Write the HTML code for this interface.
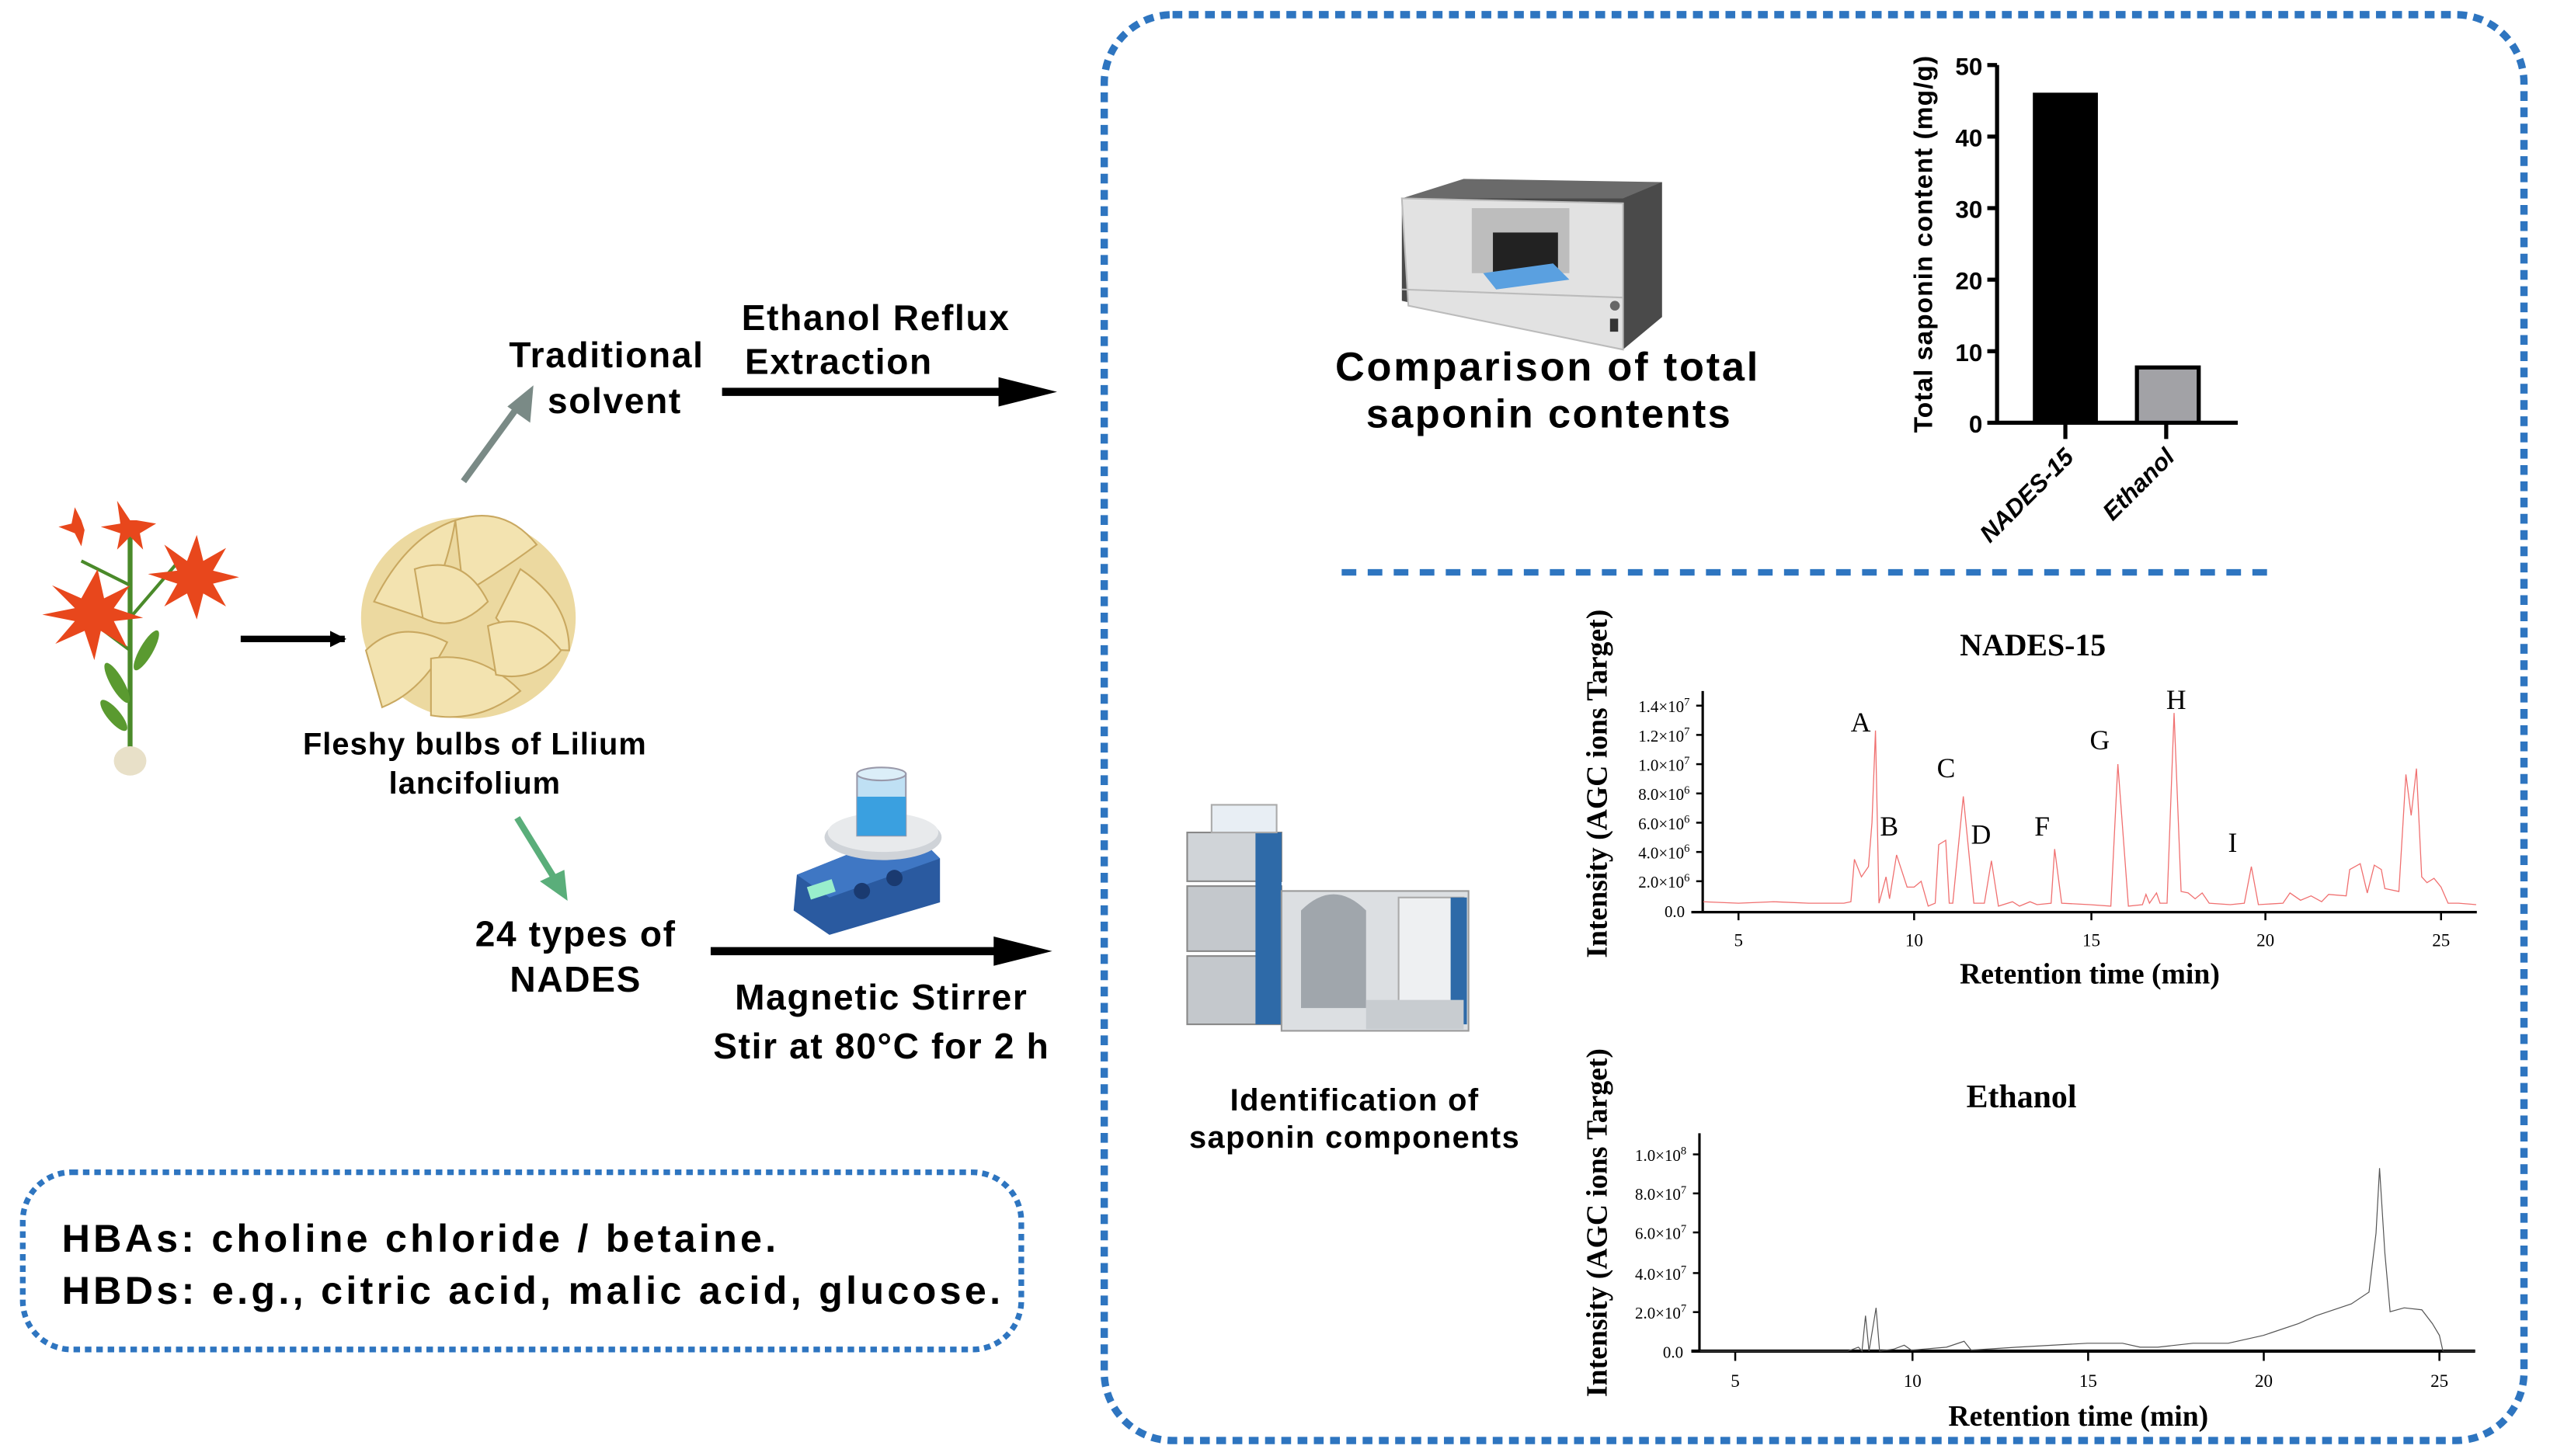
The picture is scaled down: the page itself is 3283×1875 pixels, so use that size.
<!DOCTYPE html>
<html><head><meta charset="utf-8"><style>html,body{margin:0;padding:0;background:#fff}svg{display:block}</style></head>
<body>
<svg width="3283" height="1875" viewBox="0 0 1568 895.5" xmlns="http://www.w3.org/2000/svg" font-family="Liberation Sans, Arial, sans-serif">
<rect width="1568" height="896" fill="#fff"/>
<defs>
<marker id="ah" markerWidth="10" markerHeight="10" refX="9" refY="5" orient="auto" markerUnits="userSpaceOnUse"><path d="M0,0 L10,5 L0,10 z" fill="#000"/></marker>
</defs>
<rect x="679" y="9" width="873" height="877" rx="42" fill="none" stroke="#2e75c0" stroke-width="4.5" stroke-dasharray="6 4"/>
<line x1="825" y1="352" x2="1395" y2="352" stroke="#2e75c0" stroke-width="4" stroke-dasharray="9 7"/>
<rect x="14" y="721" width="614" height="109" rx="30" fill="none" stroke="#2e75c0" stroke-width="3.5" stroke-dasharray="4 3"/>
<text x="38" y="770" font-size="24" font-weight="bold" letter-spacing="0.8" textLength="440">HBAs: choline chloride / betaine.</text>
<text x="38" y="802" font-size="24" font-weight="bold" letter-spacing="0.8" textLength="578">HBDs: e.g., citric acid, malic acid, glucose.</text>

<g>
<line x1="80" y1="470" x2="80" y2="330" stroke="#4a8a2a" stroke-width="3"/>
<line x1="80" y1="380" x2="110" y2="345" stroke="#4a8a2a" stroke-width="2"/>
<line x1="80" y1="360" x2="50" y2="345" stroke="#4a8a2a" stroke-width="2"/>
<line x1="80" y1="400" x2="60" y2="385" stroke="#4a8a2a" stroke-width="2"/>
<ellipse cx="72" cy="420" rx="4" ry="14" fill="#5a9a30" transform="rotate(-30 72 420)"/>
<ellipse cx="90" cy="400" rx="4" ry="14" fill="#5a9a30" transform="rotate(30 90 400)"/>
<ellipse cx="70" cy="440" rx="4" ry="12" fill="#5a9a30" transform="rotate(-40 70 440)"/>
<ellipse cx="80" cy="468" rx="10" ry="9" fill="#e8e0c8"/>
<g fill="#e8471c">
<path d="M50,368 l-18,-8 l14,14 l-20,4 l20,4 l-12,14 l18,-8 l6,18 l4,-18 l16,10 l-8,-16 l18,-2 l-18,-6 l10,-14 l-16,8 l-4,-18 z"/>
<path d="M115,345 l-14,-10 l8,16 l-18,2 l18,6 l-8,14 l14,-8 l6,16 l4,-16 l14,8 l-8,-14 l16,-4 l-16,-4 l8,-14 l-14,8 l-4,-16 z"/>
<path d="M80,320 l-8,-12 l2,14 l-12,2 l12,4 l-2,10 l8,-8 l8,8 l-2,-10 l10,-6 l-12,-2 z"/>
<path d="M50,320 l-4,-8 l-2,10 l-8,2 l10,4 l4,8 l2,-10 z"/>
</g>
</g>
<g>
<ellipse cx="288" cy="380" rx="66" ry="62" fill="#ecd9a0"/>
<g fill="#f3e3b0" stroke="#c9a860" stroke-width="1">
<path d="M230,370 q20,-40 50,-50 q-5,30 -20,60 z"/>
<path d="M280,320 q30,-10 50,15 q-20,15 -45,30 z"/>
<path d="M320,350 q30,20 30,50 q-30,0 -45,-20 z"/>
<path d="M225,400 q20,-20 50,-5 q-15,30 -40,40 z"/>
<path d="M265,405 q30,-5 55,20 q-25,20 -55,15 z"/>
<path d="M255,350 q30,-10 45,20 q-20,20 -40,10 z"/>
<path d="M300,385 q25,-10 45,15 q-15,20 -40,15 z"/>
</g>
</g>
<line x1="148" y1="393" x2="212" y2="393" stroke="#000" stroke-width="4" marker-end="url(#ah)"/>
<text x="292" y="464" font-size="19" font-weight="bold" text-anchor="middle" letter-spacing="0.5">Fleshy bulbs of Lilium</text>
<text x="292" y="488" font-size="19" font-weight="bold" text-anchor="middle" letter-spacing="0.5">lancifolium</text>

<line x1="285" y1="296" x2="320" y2="248" stroke="#7a8a86" stroke-width="4"/>
<path d="M328,237 L326,260 L312,250 z" fill="#7a8a86"/>
<line x1="318" y1="503" x2="342" y2="542" stroke="#5aae7a" stroke-width="4"/>
<path d="M349,554 L332,542 L347,535 z" fill="#5aae7a"/>

<text x="313" y="226" font-size="22" font-weight="bold" letter-spacing="0.8">Traditional</text>
<text x="378" y="254" font-size="22" font-weight="bold" text-anchor="middle" letter-spacing="0.8">solvent</text>
<text x="456" y="203" font-size="22" font-weight="bold" letter-spacing="0.8">Ethanol Reflux</text>
<text x="458" y="230" font-size="22" font-weight="bold" letter-spacing="0.8">Extraction</text>
<line x1="444" y1="241" x2="630" y2="241" stroke="#000" stroke-width="5"/>
<path d="M650,241 L614,232 L614,250 z" fill="#000"/>

<text x="354" y="582" font-size="22" font-weight="bold" text-anchor="middle" letter-spacing="0.8">24 types of</text>
<text x="354" y="610" font-size="22" font-weight="bold" text-anchor="middle" letter-spacing="0.8">NADES</text>
<line x1="437" y1="585" x2="628" y2="585" stroke="#000" stroke-width="5"/>
<path d="M647,585 L611,576 L611,594 z" fill="#000"/>

<g>
<path d="M490,538 L560,510 L578,528 L578,555 L510,575 L488,560 z" fill="#2a5aa0"/>
<path d="M490,538 L560,510 L578,528 L510,552 z" fill="#3f77c4"/>
<ellipse cx="543" cy="515" rx="36" ry="14" fill="#cfd3d8"/>
<ellipse cx="543" cy="512" rx="34" ry="12" fill="#e8eaec"/>
<rect x="527" y="476" width="30" height="38" fill="#bfe0f4" stroke="#99a" stroke-width="1"/>
<rect x="527" y="490" width="30" height="24" fill="#3aa0e0"/>
<ellipse cx="542" cy="476" rx="15" ry="4" fill="#dbeef8" stroke="#99a"/>
<rect x="497" y="543" width="16" height="8" fill="#9ec" transform="rotate(-18 505 547)"/>
<circle cx="530" cy="548" r="5" fill="#1a3a70"/><circle cx="550" cy="540" r="5" fill="#1a3a70"/>
</g>
<text x="542" y="621" font-size="22" font-weight="bold" text-anchor="middle" letter-spacing="0.8">Magnetic Stirrer</text>
<text x="542" y="651" font-size="22" font-weight="bold" text-anchor="middle" letter-spacing="0.8">Stir at 80°C for 2 h</text>

<g>
<path d="M862,122 L1022,112 L1022,195 L998,215 L862,185 z" fill="#4a4a4a"/>
<path d="M862,122 L900,110 L1022,112 L998,122 z" fill="#6a6a6a"/>
<path d="M862,122 L998,125 L998,215 L866,188 z" fill="#e2e2e2" stroke="#bbb"/>
<rect x="905" y="128" width="60" height="40" fill="#bdbdbd"/>
<rect x="918" y="143" width="40" height="25" fill="#222"/>
<path d="M912,168 L955,162 L965,172 L920,178 z" fill="#5aa0e0"/>
<path d="M862,178 L998,183" stroke="#bbb"/>
<circle cx="993" cy="188" r="3" fill="#666"/><rect x="990" y="196" width="5" height="8" fill="#333"/>
</g>
<text x="951" y="234" font-size="25" font-weight="bold" text-anchor="middle" textLength="260">Comparison of total</text>
<text x="952" y="263" font-size="25" font-weight="bold" text-anchor="middle" textLength="224">saponin contents</text>

<g font-weight="bold">
<line x1="1228" y1="40" x2="1228" y2="261" stroke="#000" stroke-width="2.5"/>
<line x1="1227" y1="260" x2="1376" y2="260" stroke="#000" stroke-width="2.5"/>
<g stroke="#000" stroke-width="2.5">
<line x1="1222" y1="40" x2="1228" y2="40"/><line x1="1222" y1="84" x2="1228" y2="84"/><line x1="1222" y1="128" x2="1228" y2="128"/><line x1="1222" y1="172" x2="1228" y2="172"/><line x1="1222" y1="216" x2="1228" y2="216"/><line x1="1222" y1="260" x2="1228" y2="260"/>
<line x1="1270" y1="260" x2="1270" y2="270"/><line x1="1332" y1="260" x2="1332" y2="270"/>
</g>
<g font-size="15" text-anchor="end">
<text x="1219" y="46">50</text><text x="1219" y="90">40</text><text x="1219" y="134">30</text><text x="1219" y="178">20</text><text x="1219" y="222">10</text><text x="1219" y="266">0</text>
</g>
<rect x="1250" y="57" width="40" height="203" fill="#000"/>
<rect x="1314" y="226" width="38" height="34" fill="#a2a2a6" stroke="#000" stroke-width="2.5"/>
<text transform="translate(1188,150) rotate(-90)" font-size="16" text-anchor="middle" letter-spacing="0.5">Total saponin content (mg/g)</text>
<text transform="translate(1276,282) rotate(-45)" font-size="15" font-style="italic" text-anchor="end">NADES-15</text>
<text transform="translate(1338,282) rotate(-45)" font-size="15" font-style="italic" text-anchor="end">Ethanol</text>
</g>

<g>
<rect x="730" y="512" width="58" height="30" fill="#d0d4d8" stroke="#888"/>
<rect x="730" y="545" width="58" height="40" fill="#c4c8cc" stroke="#888"/>
<rect x="730" y="588" width="58" height="42" fill="#c4c8cc" stroke="#888"/>
<rect x="772" y="512" width="16" height="118" fill="#2e6aa8"/>
<rect x="745" y="495" width="40" height="17" fill="#e8eef4" stroke="#aaa"/>
<rect x="788" y="548" width="115" height="86" fill="#dcdfe2" stroke="#999"/>
<rect x="860" y="552" width="40" height="70" fill="#eef0f2" stroke="#aaa"/>
<rect x="892" y="552" width="10" height="78" fill="#2e6aa8"/>
<path d="M800,560 q20,-20 40,0 l0,60 l-40,0 z" fill="#a0a6ac"/>
<rect x="840" y="615" width="60" height="18" fill="#c8ccd0"/>
</g>
<text x="833" y="683" font-size="19" font-weight="bold" text-anchor="middle" letter-spacing="0.7">Identification of</text>
<text x="833" y="706" font-size="19" font-weight="bold" text-anchor="middle" letter-spacing="0.7">saponin components</text>

<g font-family="Liberation Serif, Times New Roman, serif">
<text x="1250" y="403" font-size="19" font-weight="bold" text-anchor="middle">NADES-15</text>
<text transform="translate(988,482) rotate(-90)" font-size="18" font-weight="bold" text-anchor="middle">Intensity (AGC ions Target)</text>
<line x1="1047" y1="425" x2="1047" y2="561" stroke="#000" stroke-width="1.5"/>
<line x1="1040" y1="561" x2="1523" y2="561" stroke="#000" stroke-width="1.5"/>
<g stroke="#000" stroke-width="1.2">
<line x1="1043" y1="434" x2="1047" y2="434"/><line x1="1043" y1="452" x2="1047" y2="452"/><line x1="1043" y1="470" x2="1047" y2="470"/><line x1="1043" y1="488" x2="1047" y2="488"/><line x1="1043" y1="506" x2="1047" y2="506"/><line x1="1043" y1="524" x2="1047" y2="524"/><line x1="1043" y1="542" x2="1047" y2="542"/>
<line x1="1069" y1="561" x2="1069" y2="566"/><line x1="1177" y1="561" x2="1177" y2="566"/><line x1="1286" y1="561" x2="1286" y2="566"/><line x1="1393" y1="561" x2="1393" y2="566"/><line x1="1501" y1="561" x2="1501" y2="566"/>
</g>
<g font-size="10" text-anchor="end">
<text x="1039" y="438">1.4×10<tspan dy="-4" font-size="7">7</tspan></text>
<text x="1039" y="456">1.2×10<tspan dy="-4" font-size="7">7</tspan></text>
<text x="1039" y="474">1.0×10<tspan dy="-4" font-size="7">7</tspan></text>
<text x="1039" y="492">8.0×10<tspan dy="-4" font-size="7">6</tspan></text>
<text x="1039" y="510">6.0×10<tspan dy="-4" font-size="7">6</tspan></text>
<text x="1039" y="528">4.0×10<tspan dy="-4" font-size="7">6</tspan></text>
<text x="1039" y="546">2.0×10<tspan dy="-4" font-size="7">6</tspan></text>
<text x="1036" y="564">0.0</text>
</g>
<g font-size="11" text-anchor="middle">
<text x="1069" y="582">5</text><text x="1177" y="582">10</text><text x="1286" y="582">15</text><text x="1393" y="582">20</text><text x="1501" y="582">25</text>
</g>
<text x="1285" y="605" font-size="18" font-weight="bold" text-anchor="middle">Retention time (min)</text>
<g font-size="17">
<text x="1138" y="450">A</text><text x="1156" y="514">B</text><text x="1191" y="478">C</text><text x="1212" y="519">D</text><text x="1251" y="514">F</text><text x="1285" y="461">G</text><text x="1332" y="436">H</text><text x="1370" y="524">I</text>
</g>
<g transform="translate(961,560) scale(21.6,-9)">
<polyline fill="none" stroke="#f07070" stroke-width="1.3" vector-effect="non-scaling-stroke" points="4,0.6 5,0.5 6,0.6 7,0.5 8,0.5 8.2,0.6 8.3,3.5 8.5,2.3 8.7,3 8.8,6 8.9,12.3 9.0,0.5 9.2,2.3 9.3,0.8 9.5,3.8 9.8,1.6 10,1.6 10.2,2 10.4,0.3 10.6,0.5 10.7,4.5 10.9,4.8 11.0,0.5 11.1,0.5 11.4,7.8 11.7,0.5 12.0,0.5 12.2,3.4 12.4,0.3 12.8,0.6 13,0.3 13.3,0.6 13.5,0.4 13.9,0.5 14.0,4.2 14.2,0.5 15,0.4 15.6,0.3 15.8,10 16.1,0.3 16.5,0.4 16.6,1.1 16.7,0.5 16.9,1.2 17.0,0.5 17.2,0.5 17.4,13.5 17.6,1.3 17.8,1.2 18,0.8 18.2,1.2 18.4,0.5 19,0.4 19.4,0.5 19.6,3 19.8,0.4 20.5,0.5 20.7,1.2 21,0.7 21.3,1 21.6,0.6 21.8,1.1 22.3,1.0 22.4,2.8 22.7,3.2 22.9,1.2 23.1,3.1 23.3,2.8 23.4,1.5 23.8,1.3 24.0,9.3 24.15,6.5 24.3,9.7 24.45,2.3 24.6,1.9 24.8,2.2 25,1.6 25.2,0.5 25.5,0.5 26,0.4"/>
</g>
</g>

<g font-family="Liberation Serif, Times New Roman, serif">
<text x="1243" y="681" font-size="20" font-weight="bold" text-anchor="middle">Ethanol</text>
<text transform="translate(988,752) rotate(-90)" font-size="18" font-weight="bold" text-anchor="middle">Intensity (AGC ions Target)</text>
<line x1="1045" y1="697" x2="1045" y2="832" stroke="#000" stroke-width="1.5"/>
<line x1="1040" y1="831" x2="1522" y2="831" stroke="#000" stroke-width="2"/>
<g stroke="#000" stroke-width="1.2">
<line x1="1041" y1="710" x2="1045" y2="710"/><line x1="1041" y1="734" x2="1045" y2="734"/><line x1="1041" y1="758" x2="1045" y2="758"/><line x1="1041" y1="783" x2="1045" y2="783"/><line x1="1041" y1="807" x2="1045" y2="807"/>
<line x1="1067" y1="831" x2="1067" y2="837"/><line x1="1176" y1="831" x2="1176" y2="837"/><line x1="1284" y1="831" x2="1284" y2="837"/><line x1="1392" y1="831" x2="1392" y2="837"/><line x1="1500" y1="831" x2="1500" y2="837"/>
</g>
<g font-size="10" text-anchor="end">
<text x="1037" y="714">1.0×10<tspan dy="-4" font-size="7">8</tspan></text>
<text x="1037" y="738">8.0×10<tspan dy="-4" font-size="7">7</tspan></text>
<text x="1037" y="762">6.0×10<tspan dy="-4" font-size="7">7</tspan></text>
<text x="1037" y="787">4.0×10<tspan dy="-4" font-size="7">7</tspan></text>
<text x="1037" y="811">2.0×10<tspan dy="-4" font-size="7">7</tspan></text>
<text x="1035" y="835">0.0</text>
</g>
<g font-size="11" text-anchor="middle">
<text x="1067" y="853">5</text><text x="1176" y="853">10</text><text x="1284" y="853">15</text><text x="1392" y="853">20</text><text x="1500" y="853">25</text>
</g>
<text x="1278" y="877" font-size="18" font-weight="bold" text-anchor="middle">Retention time (min)</text>
<g transform="translate(958.75,831) scale(21.65,-1.21)">
<polyline fill="none" stroke="#555" stroke-width="1.2" vector-effect="non-scaling-stroke" points="4,0 8.2,0 8.5,2 8.6,0 8.7,18 8.8,0 9.0,22 9.1,0 9.5,1 9.8,3 10,0.5 11,2 11.5,5 11.7,0.5 13,2 15,4 16,4 16.5,2 17,2 18,4 19,4 20,8 21,14 21.5,18 22.5,24 23,30 23.2,60 23.3,93 23.45,50 23.6,20 24,22 24.5,21 24.8,14 25,8 25.1,0 26,0"/>
</g>
</g>
</svg>
</body></html>
